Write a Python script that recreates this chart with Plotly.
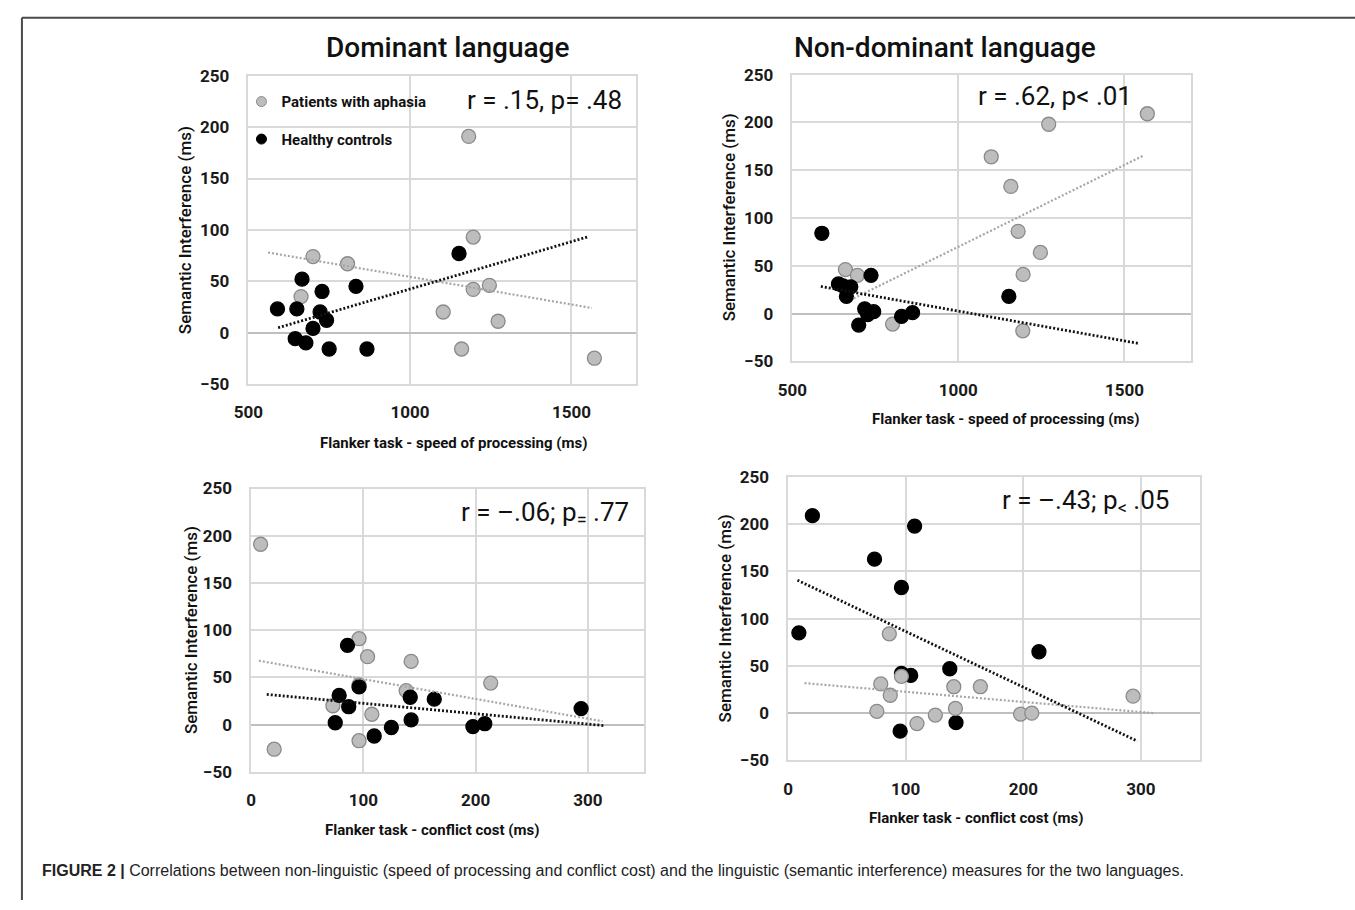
import numpy as np
import plotly.graph_objects as go

W, H = 1355, 910

# ---------------- data ----------------
# Panel 1: Dominant language, speed of processing
p1_gray_x = [663, 700, 807, 1103, 1160, 1182, 1196, 1196, 1246, 1273, 1571]
p1_gray_y = [35, 74, 67, 20, -16, 191, 93, 42, 46, 11, -25]
p1_black_x = [590, 645, 650, 666, 678, 700, 722, 728, 742, 750, 833, 867, 1152]
p1_black_y = [23, -6, 23, 52, -10, 4, 20, 40, 12, -16, 45, -16, 77]

# Panel 2: Non-dominant language, speed of processing
p2_gray_x = [660, 696, 802, 1099, 1158, 1180, 1195, 1194, 1247, 1272, 1569]
p2_gray_y = [46, 40, -11, 164, 133, 86, 41, -18, 64, 198, 209]
p2_black_x = [589, 639, 653, 663, 676, 700, 718, 727, 737, 745, 829, 862, 1152]
p2_black_y = [84, 31, 29, 18, 28, -12, 5, -1, 40, 2, -3, 1, 18]

# Panel 3: Dominant language, conflict cost
p3_gray_x = [8.5, 20.6, 72.9, 96.2, 96.2, 96.2, 103.8, 107.6, 138.2, 142.6, 213.5]
p3_gray_y = [191, -26, 20, 91, 42, -17, 72, 11, 36, 67, 44]
p3_black_x = [75, 78.5, 85.9, 87, 96.2, 109.7, 125, 141.8, 142.6, 163.2, 197.6, 208.2, 294]
p3_black_y = [2, 31, 84, 19, 40, -12, -3, 29, 5, 27, -2, 1, 17]

# Panel 4: Non-dominant language, conflict cost
p4_black_x = [9.2, 20.7, 73.5, 95.3, 96.4, 96.4, 104.3, 107.6, 137.5, 142.8, 213.3]
p4_black_y = [85, 209, 163, -19, 133, 42, 40, 198, 47, -10, 65]
p4_gray_x = [75.5, 78.8, 86.1, 86.9, 96.4, 109.6, 125.2, 140.9, 142.3, 163.5, 197.7, 207.2, 293.3]
p4_gray_y = [2, 31, 84, 19, 39, -11, -2, 28, 5, 28, -1, 0, 18]

# trendline x-extents
p1_gray_trend = [561, 1563]
p1_black_trend = [592, 1553]
p2_gray_trend = [685, 1558]
p2_black_trend = [586, 1543]
p3_gray_trend = [7, 313]
p3_black_trend = [14, 315]
p4_black_trend = [8, 297]
p4_gray_trend = [14, 312]

panel_titles = ["Dominant language", "Non-dominant language"]
stats_text = ["r = .15, p= .48", "r = .62, p< .01",
              "r = –.06; p<sub>=</sub> .77", "r = –.43; p<sub>&lt;</sub> .05"]
legend_labels = ["Patients with aphasia", "Healthy controls"]
x_titles = ["Flanker task - speed of processing (ms)",
            "Flanker task - speed of processing (ms)",
            "Flanker task - conflict cost (ms)",
            "Flanker task - conflict cost (ms)"]
y_title = "Semantic Interference (ms)"
caption_bold = "FIGURE 2 |"
caption_text = ("Correlations between non-linguistic (speed of processing and conflict cost) "
                "and the linguistic (semantic interference) measures for the two languages.")

# ---------------- styling ----------------
FONT = "Roboto"
GRAY_FILL = "#bdbdbd"
GRAY_LINE = "#8a8a8a"
BLACK = "#000000"
GRID = "#d9d9d9"


def px_x(px):
    return px / W


def px_y(py):
    return 1 - py / H


# plot-area pixel boxes: (left, right, top, bottom)
boxes = [(236, 628, 67.3, 382.3),
         (786, 1189, 66, 359.3),
         (238.7, 636, 489.3, 779),
         (781.7, 1198, 477.4, 767.3)]
xranges = [[500, 1700], [500, 1700], [0, 350], [0, 350]]
xdticks = [500, 500, 100, 100]

fig = go.Figure()


def scatter(i, xs, ys, gray):
    ax = "" if i == 0 else str(i + 1)
    fig.add_trace(go.Scatter(
        x=xs, y=ys, mode="markers", xaxis="x" + ax, yaxis="y" + ax,
        marker=dict(size=14, color=GRAY_FILL if gray else BLACK,
                    line=dict(color=GRAY_LINE if gray else BLACK, width=1.3)),
        showlegend=False, hoverinfo="x+y"))


def trend(i, xs, ys, ext, gray):
    ax = "" if i == 0 else str(i + 1)
    slope, intercept = np.polyfit(np.array(xs, float), np.array(ys, float), 1)
    tx = np.array(ext, float)
    ty = slope * tx + intercept
    fig.add_trace(go.Scatter(
        x=tx, y=ty, mode="lines", xaxis="x" + ax, yaxis="y" + ax,
        line=dict(color="#a6a6a6" if gray else "#111111",
                  width=2.2 if gray else 2.8, dash="2px,2px"),
        showlegend=False, hoverinfo="skip"))


# panel 1
scatter(0, p1_gray_x, p1_gray_y, True)
scatter(0, p1_black_x, p1_black_y, False)
trend(0, p1_gray_x, p1_gray_y, p1_gray_trend, True)
trend(0, p1_black_x, p1_black_y, p1_black_trend, False)
# panel 2
scatter(1, p2_gray_x, p2_gray_y, True)
scatter(1, p2_black_x, p2_black_y, False)
trend(1, p2_gray_x, p2_gray_y, p2_gray_trend, True)
trend(1, p2_black_x, p2_black_y, p2_black_trend, False)
# panel 3
scatter(2, p3_gray_x, p3_gray_y, True)
scatter(2, p3_black_x, p3_black_y, False)
trend(2, p3_gray_x, p3_gray_y, p3_gray_trend, True)
trend(2, p3_black_x, p3_black_y, p3_black_trend, False)
# panel 4
scatter(3, p4_black_x, p4_black_y, False)
scatter(3, p4_gray_x, p4_gray_y, True)
trend(3, p4_gray_x, p4_gray_y, p4_gray_trend, True)
trend(3, p4_black_x, p4_black_y, p4_black_trend, False)

# legend entries
for lab, gray, grp in [(legend_labels[0], True, "a"), (legend_labels[1], False, "b")]:
    fig.add_trace(go.Scatter(
        x=[None], y=[None], mode="markers", name=lab, legendgroup=grp,
        marker=dict(size=10, color=GRAY_FILL if gray else BLACK,
                    line=dict(color=GRAY_LINE if gray else BLACK, width=1)),
        showlegend=True))

layout = dict(
    width=W, height=H, margin=dict(l=0, r=0, t=0, b=0),
    paper_bgcolor="white", plot_bgcolor="white",
    font=dict(family=FONT, color="#1a1a1a"),
    showlegend=True,
    legend=dict(x=px_x(229), y=px_y(77), xanchor="left", yanchor="top",
                bgcolor="rgba(0,0,0,0)", tracegroupgap=15,
                font=dict(family=FONT, size=15, color="#111", weight="bold"),
                itemwidth=30),
)

tick_font = dict(family=FONT, size=17, color="#1a1a1a", weight="bold")
for i, (l, r, t, b) in enumerate(boxes):
    ax = "" if i == 0 else str(i + 1)
    layout["xaxis" + ax] = dict(
        domain=[px_x(l), px_x(r)], range=xranges[i], dtick=xdticks[i], tick0=0,
        anchor="y" + ax, showgrid=True, gridcolor=GRID, gridwidth=1.5,
        showline=True, linecolor=GRID, linewidth=1.5, mirror=True,
        zeroline=False, ticks="", tickfont=tick_font, ticklabelstandoff=12,
        fixedrange=True)
    layout["yaxis" + ax] = dict(
        domain=[px_y(b), px_y(t)], range=[-50, 250], dtick=50,
        anchor="x" + ax, showgrid=True, gridcolor=GRID, gridwidth=1.5,
        showline=True, linecolor=GRID, linewidth=1.5, mirror=True,
        zeroline=True, zerolinecolor="#bfbfbf", zerolinewidth=1.5,
        ticks="", tickfont=tick_font, ticklabelstandoff=14, fixedrange=True)

annotations = []
# panel titles
for txt, cx in zip(panel_titles, [437, 940]):
    annotations.append(dict(text=txt, x=px_x(cx), y=px_y(38), xref="paper", yref="paper",
                            showarrow=False, xanchor="center", yanchor="middle",
                            font=dict(family=FONT, size=28, color="#111", weight=500)))
# stats text
for txt, (cx, cy) in zip(stats_text, [(535, 92), (1052, 88), (536, 515), (1082, 503)]):
    annotations.append(dict(text=txt, x=px_x(cx), y=px_y(cy), xref="paper", yref="paper",
                            showarrow=False, xanchor="center", yanchor="middle",
                            font=dict(family=FONT, size=26, color="#111")))
# x titles
for txt, (cx, cy) in zip(x_titles, [(443, 443), (1002, 418), (422, 838), (972, 826)]):
    annotations.append(dict(text=txt, x=px_x(cx), y=px_y(cy), xref="paper", yref="paper",
                            showarrow=False, xanchor="center", yanchor="middle",
                            font=dict(family=FONT, size=15, color="#111", weight="bold")))
# y titles
for (cx, cy) in [(172, 225), (722, 212), (178, 634), (718, 622)]:
    annotations.append(dict(text=y_title, x=px_x(cx), y=px_y(cy), xref="paper", yref="paper",
                            showarrow=False, xanchor="center", yanchor="middle", textangle=-90,
                            font=dict(family=FONT, size=17, color="#111", weight=500)))
# caption
annotations.append(dict(text="<b>" + caption_bold + "</b> " + caption_text,
                        x=px_x(25), y=px_y(880), xref="paper", yref="paper",
                        showarrow=False, xanchor="left", yanchor="middle",
                        font=dict(family="Liberation Sans", size=16, color="#222")))
layout["annotations"] = annotations

# frame lines
layout["shapes"] = [
    dict(type="line", xref="paper", yref="paper", x0=px_x(7), x1=1, y0=px_y(8), y1=px_y(8),
         line=dict(color="#4a4a4a", width=2)),
    dict(type="line", xref="paper", yref="paper", x0=px_x(7), x1=px_x(7), y0=px_y(8), y1=0,
         line=dict(color="#4a4a4a", width=2)),
]

fig.update_layout(**layout)
fig.write_html("out.html")
